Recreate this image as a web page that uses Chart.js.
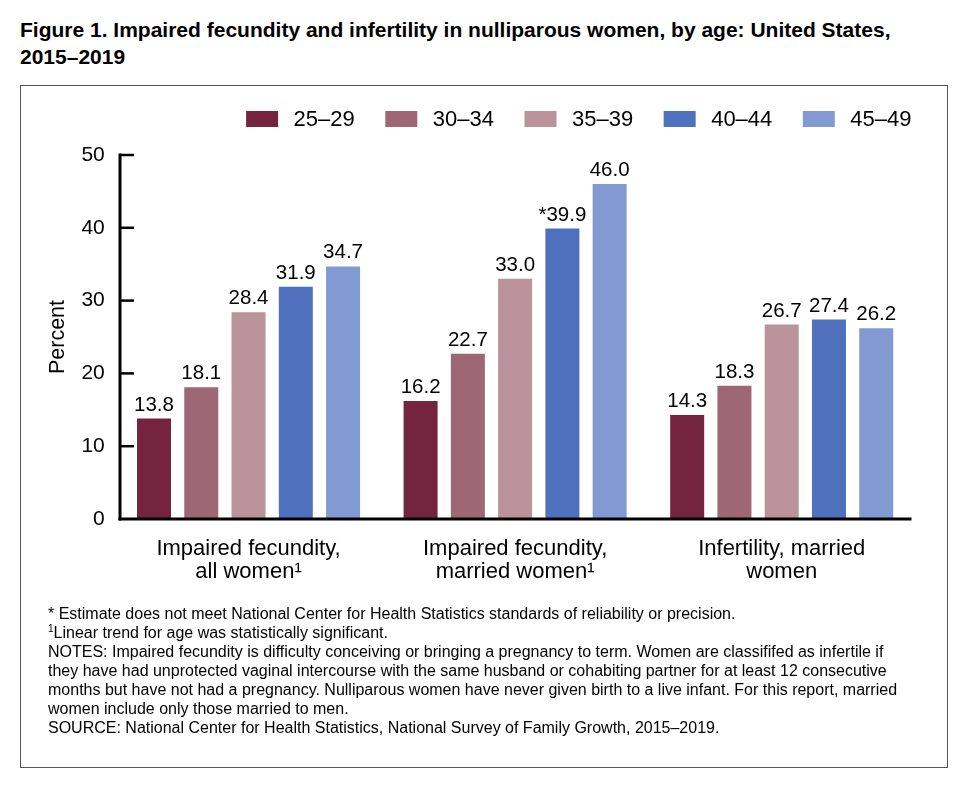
<!DOCTYPE html>
<html>
<head>
<meta charset="utf-8">
<script src="https://cdn.jsdelivr.net/npm/chart.js@4.4.1/dist/chart.umd.min.js"></script>
<style>
  html, body { margin: 0; padding: 0; background: #fff; }
  body { width: 976px; height: 798px; position: relative; font-family: "Liberation Sans", Arial, Helvetica, sans-serif; color: #000; }
  #title { position: absolute; left: 20px; top: 16px; font-size: 21px; font-weight: bold; line-height: 27px; white-space: nowrap; }
  #box { position: absolute; left: 20px; top: 85px; width: 926px; height: 681px; border: 1px solid #555; }
  #wrap { position: absolute; left: 0px; top: 0px; width: 926px; height: 520px; }
  #notes { position: absolute; left: 27px; top: 518px; font-size: 16px; line-height: 19px; white-space: nowrap; }
  #notes sup { font-size: 10px; vertical-align: 6px; line-height: 0; }
</style>
</head>
<body>
<div id="title">Figure 1. Impaired fecundity and infertility in nulliparous women, by age: United States,<br>2015–2019</div>
<div id="box">
  <div id="wrap"><canvas id="c" width="926" height="520"></canvas></div>
  <div id="notes">
    * Estimate does not meet National Center for Health Statistics standards of reliability or precision.<br>
    <sup>1</sup>Linear trend for age was statistically significant.<br>
    NOTES: Impaired fecundity is difficulty conceiving or bringing a pregnancy to term. Women are classififed as infertile if<br>
    they have had unprotected vaginal intercourse with the same husband or cohabiting partner for at least 12 consecutive<br>
    months but have not had a pregnancy. Nulliparous women have never given birth to a live infant. For this report, married<br>
    women include only those married to men.<br>
    SOURCE: National Center for Health Statistics, National Survey of Family Growth, 2015–2019.
  </div>
</div>
<script>
// ---- data ----
const categories = [
  ["Impaired fecundity,", "all women¹"],
  ["Impaired fecundity,", "married women¹"],
  ["Infertility, married", "women"]
];
const ageGroups = ["25–29", "30–34", "35–39", "40–44", "45–49"];
const age25_29 = [13.8, 16.2, 14.3];
const age30_34 = [18.1, 22.7, 18.3];
const age35_39 = [28.4, 33.0, 26.7];
const age40_44 = [31.9, 39.9, 27.4];
const age45_49 = [34.7, 46.0, 26.2];
// estimates flagged with * (does not meet reliability standards)
const flag25_29 = [false, false, false];
const flag30_34 = [false, false, false];
const flag35_39 = [false, false, false];
const flag40_44 = [false, true, false];
const flag45_49 = [false, false, false];
const yTicks = [0, 10, 20, 30, 40, 50];

const seriesValues = [age25_29, age30_34, age35_39, age40_44, age45_49];
const seriesFlags = [flag25_29, flag30_34, flag35_39, flag40_44, flag45_49];
const colors = ["#74243f", "#9e6775", "#bb939c", "#4f70bd", "#819bd2"];

const FONT = '"Liberation Sans", Arial, Helvetica, sans-serif';
const AXIS_INSET = 4.75;   // axis line drawn slightly inside the category band
const AXIS_RIGHT_INSET = 3.5;

const valueLabels = {
  id: 'valueLabels',
  afterDatasetsDraw(chart) {
    const ctx = chart.ctx;
    ctx.save();
    ctx.font = '20.5px ' + FONT;
    ctx.fillStyle = '#000';
    ctx.textAlign = 'center';
    ctx.textBaseline = 'alphabetic';
    chart.data.datasets.forEach((ds, di) => {
      const meta = chart.getDatasetMeta(di);
      meta.data.forEach((bar, i) => {
        const v = ds.data[i];
        const txt = (seriesFlags[di][i] ? '*' : '') + v.toFixed(1);
        ctx.fillText(txt, bar.x, bar.y - 8);
      });
    });
    ctx.restore();
  }
};

const axesPlugin = {
  id: 'axesPlugin',
  afterDraw(chart) {
    const y = chart.scales.y;
    const ca = chart.chartArea;
    const ctx = chart.ctx;
    const ax = ca.left + AXIS_INSET;
    const y0 = y.getPixelForValue(0);
    ctx.save();
    ctx.strokeStyle = '#000';
    ctx.lineWidth = 3;
    ctx.lineCap = 'butt';
    ctx.beginPath();
    ctx.moveTo(ax, y.getPixelForValue(50) - 1.5);
    ctx.lineTo(ax, y0 + 1.5);
    ctx.stroke();
    ctx.beginPath();
    ctx.moveTo(ax - 1.5, y0);
    ctx.lineTo(ca.right - AXIS_RIGHT_INSET, y0);
    ctx.stroke();
    ctx.lineWidth = 2.5;
    yTicks.forEach(t => {
      if (t === 0) return;
      const py = y.getPixelForValue(t);
      ctx.beginPath();
      ctx.moveTo(ax, py);
      ctx.lineTo(ax + 14, py);
      ctx.stroke();
    });
    ctx.restore();
  }
};

const legendPlugin = {
  id: 'legendPlugin',
  afterDraw(chart) {
    const ctx = chart.ctx;
    const ca = chart.chartArea;
    const boxW = 32, boxH = 16, gap = 15.5, spacing = 30.5;
    const cy = 33;
    ctx.save();
    ctx.font = '22px ' + FONT;
    const items = chart.data.datasets.map(ds => ({ text: ds.label, color: ds.backgroundColor, w: ctx.measureText(ds.label).width }));
    const total = items.reduce((s, it) => s + boxW + gap + it.w, 0) + spacing * (items.length - 1);
    let x = ca.right - AXIS_RIGHT_INSET - total;
    ctx.textBaseline = 'middle';
    ctx.textAlign = 'left';
    items.forEach(it => {
      ctx.fillStyle = it.color;
      ctx.fillRect(x, cy - boxH / 2, boxW, boxH);
      ctx.fillStyle = '#000';
      ctx.fillText(it.text, x + boxW + gap, cy + 1);
      x += boxW + gap + it.w + spacing;
    });
    ctx.restore();
  }
};

new Chart(document.getElementById('c'), {
  type: 'bar',
  data: {
    labels: categories,
    datasets: ageGroups.map((g, i) => ({
      label: g,
      data: seriesValues[i],
      backgroundColor: colors[i],
      borderWidth: 0,
      categoryPercentage: 0.8865,
      barPercentage: 0.7196
    }))
  },
  options: {
    responsive: false,
    animation: false,
    devicePixelRatio: 1,
    layout: { padding: { top: 69, right: 32, left: 0, bottom: 0 } },
    plugins: {
      legend: { display: false },
      tooltip: { enabled: false }
    },
    scales: {
      x: {
        grid: { display: false, drawTicks: false },
        border: { display: false },
        ticks: { color: '#000', font: { size: 22, family: FONT, lineHeight: 1.05 }, padding: 18, maxRotation: 0, autoSkip: false },
        afterFit(scale) { scale.height = 87; }
      },
      y: {
        min: 0, max: 50,
        afterBuildTicks(scale) { scale.ticks = yTicks.map(v => ({ value: v })); },
        grid: { display: false, drawTicks: false },
        border: { display: false },
        ticks: { color: '#000', font: { size: 21, family: FONT }, padding: 10.5 },
        title: { display: true, text: 'Percent', color: '#000', font: { size: 21.5, family: FONT }, padding: { top: 24, bottom: 0 } },
        afterFit(scale) { scale.width = 94.25; }
      }
    }
  },
  plugins: [valueLabels, axesPlugin, legendPlugin]
});
</script>
</body>
</html>
